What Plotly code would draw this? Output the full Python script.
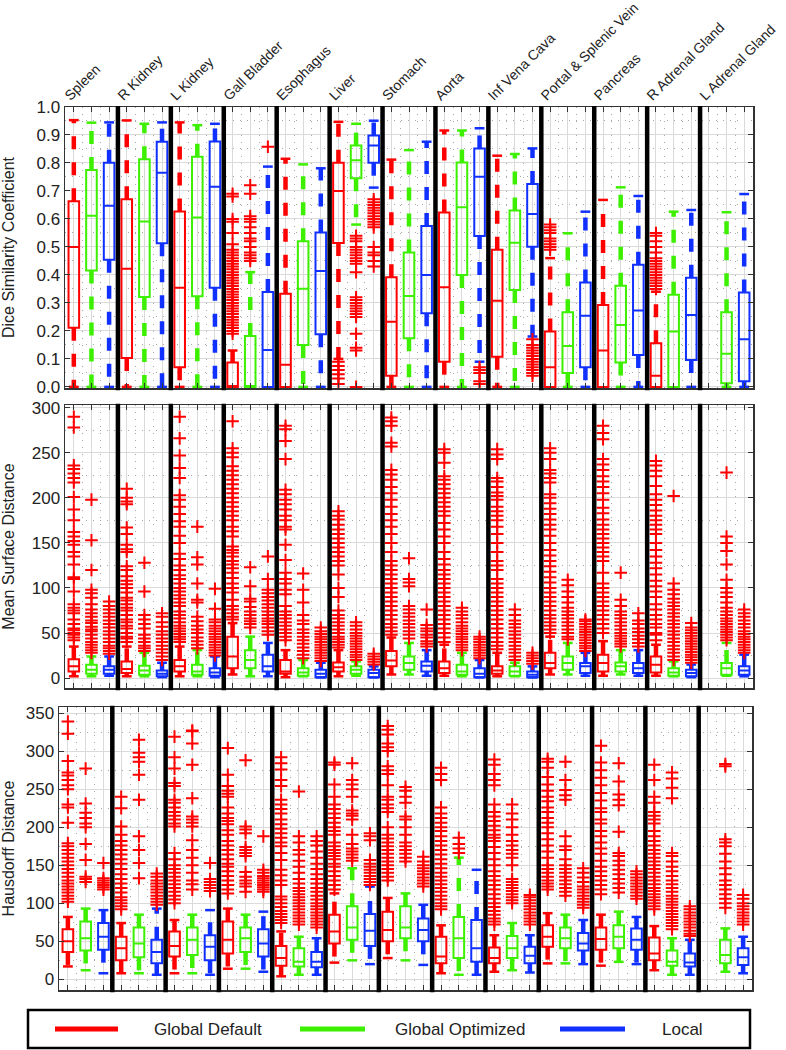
import plotly.graph_objects as go

# ---------------- data ----------------
ORGANS = ["Spleen", "R Kidney", "L Kidney", "Gall Bladder", "Esophagus", "Liver",
          "Stomach", "Aorta", "Inf Vena Cava", "Portal & Splenic Vein", "Pancreas",
          "R Adrenal Gland", "L Adrenal Gland"]
METHODS = ["Global Default", "Global Optimized", "Local"]
COLORS = ["#ff0000", "#3cf000", "#1030ff"]
OUTLIER_COLOR = "#ff0000"

# box statistics per organ: (lower whisker, q1, median, q3, upper whisker); None = no data
DSC_GD = [(0, 0.211, 0.50, 0.663, 0.953), (0, 0.103, 0.422, 0.670, 0.952), (0, 0.07, 0.354, 0.627, 0.945),
          (0, 0, 0.003, 0.087, 0.13), (0, 0, 0.079, 0.333, 0.815), (0.10, 0.514, 0.70, 0.801, 0.947),
          (0, 0.04, 0.233, 0.392, 0.812), (0, 0.09, 0.356, 0.623, 0.916), (0, 0.108, 0.308, 0.49, 0.826),
          (0, 0, 0.07, 0.198, 0.46), (0, 0, 0.13, 0.293, 0.668), (0, 0, 0.04, 0.156, 0.34), None]
DSC_GO = [(0, 0.416, 0.611, 0.775, 0.944), (0, 0.321, 0.591, 0.813, 0.94), (0, 0.324, 0.605, 0.822, 0.935),
          (0, 0, 0.003, 0.182, 0.41), (0, 0.15, 0.351, 0.52, 0.795), (0.58, 0.745, 0.81, 0.862, 0.94),
          (0, 0.174, 0.325, 0.48, 0.846), (0, 0.40, 0.642, 0.802, 0.916), (0, 0.346, 0.515, 0.63, 0.832),
          (0, 0.05, 0.146, 0.267, 0.549), (0, 0.087, 0.221, 0.361, 0.713), (0, 0, 0.198, 0.329, 0.626),
          (0, 0.013, 0.118, 0.267, 0.624)]
DSC_LO = [(0, 0.454, 0.647, 0.801, 0.945), (0, 0.513, 0.765, 0.876, 0.945), (0, 0.354, 0.715, 0.877, 0.94),
          (0, 0, 0.132, 0.339, 0.787), (0, 0.188, 0.414, 0.552, 0.781), (0.712, 0.801, 0.862, 0.898, 0.951),
          (0, 0.263, 0.40, 0.575, 0.876), (0.09, 0.539, 0.751, 0.852, 0.924), (0.18, 0.501, 0.618, 0.725, 0.852),
          (0, 0.07, 0.254, 0.373, 0.626), (0, 0.114, 0.273, 0.436, 0.682), (0, 0.096, 0.257, 0.39, 0.632),
          (0, 0.02, 0.17, 0.337, 0.689)]

DSC_GD_OUT = [[], [], [],
              [0.19, 0.20, 0.21, 0.22, 0.23, 0.24, 0.25, 0.26, 0.27, 0.28, 0.29, 0.30, 0.31, 0.32, 0.33, 0.34,
               0.35, 0.36, 0.37, 0.38, 0.39, 0.40, 0.41, 0.42, 0.43, 0.44, 0.45, 0.46, 0.47, 0.48, 0.49, 0.51,
               0.55, 0.59, 0.60, 0.68, 0.69],
              [], [0.09, 0.075, 0.06, 0.045, 0.03, 0.01], [], [], [],
              [0.49, 0.50, 0.51, 0.52, 0.53, 0.55, 0.56, 0.57, 0.58], [],
              [0.35, 0.36, 0.37, 0.38, 0.39, 0.40, 0.41, 0.42, 0.43, 0.44, 0.45, 0.46, 0.48, 0.50, 0.52, 0.54, 0.55],
              []]
DSC_GO_OUT = [[], [], [],
              [0.45, 0.46, 0.47, 0.48, 0.50, 0.52, 0.53, 0.55, 0.57, 0.59, 0.60, 0.61, 0.69, 0.72],
              [],
              [0.54, 0.53, 0.52, 0.50, 0.49, 0.48, 0.47, 0.46, 0.45, 0.44, 0.41, 0.32, 0.31, 0.30, 0.29, 0.28,
               0.27, 0.26, 0.25, 0.19, 0.14, 0.13, 0.0],
              [], [], [], [], [], [], []]
DSC_LO_OUT = [[], [], [], [0.858], [],
              [0.67, 0.66, 0.65, 0.64, 0.63, 0.62, 0.61, 0.60, 0.59, 0.58, 0.57, 0.50, 0.48, 0.47, 0.45, 0.43],
              [], [0.07, 0.06, 0.05, 0.02, 0.01],
              [0.17, 0.15, 0.14, 0.13, 0.12, 0.11, 0.10, 0.09, 0.08, 0.07, 0.06, 0.05, 0.04],
              [], [], [], []]

MSD_GD = [(2, 7.4, 13, 21, 35), (2, 5.6, 10, 18.5, 35), (2, 7.4, 13, 20, 35), (4, 11, 24, 46, 61),
          (1, 4.8, 7.4, 20, 31), (2, 7.4, 12, 17.4, 31), (4, 13, 19.6, 30, 45), (2.6, 5.6, 11, 18.5, 37),
          (2, 4.8, 8.5, 13, 28), (4, 11, 16.7, 28, 46), (2.6, 7.4, 16.7, 26, 41), (2.6, 6.3, 14.8, 24, 37), None]
MSD_GO = [(2, 4.8, 9.3, 14.8, 24), (2, 3.7, 8.5, 13.7, 28), (2, 3.7, 7.4, 14.8, 31), (2, 11, 20, 31, 46),
          (2, 2.6, 6.3, 11, 20), (2.6, 4.8, 9.3, 13, 18.5), (4, 9.3, 16.7, 24, 39), (2, 3.7, 7.4, 14.8, 28),
          (2, 2.6, 7.4, 13, 17), (4, 9.3, 16.7, 24, 39), (4, 7.4, 13, 17.4, 31), (2, 2.6, 6.3, 11, 18.5),
          (2.6, 3.7, 11, 16.7, 39)]
MSD_LO = [(2.6, 4.8, 9.3, 13, 24), (1, 1.9, 4.8, 8.5, 17), (1, 2.6, 6.3, 11, 24), (2, 7.4, 13, 26, 39),
          (0.7, 1, 4.8, 9.3, 17), (0.7, 1, 5.6, 9.3, 13), (2.6, 7.4, 13.7, 18.5, 31), (0.7, 1, 4.8, 11, 20),
          (0.7, 1, 3.7, 7.4, 13), (2.6, 5.6, 13, 16.7, 28), (2.6, 5.6, 11, 16.7, 31), (1, 2, 5.6, 9.3, 15),
          (2, 3.7, 8.5, 13, 26)]

MSD_GD_OUT = [
    [42, 45, 48, 50, 53, 55, 60, 65, 72, 75, 78, 82, 96, 110, 112, 126, 135, 140, 148, 152, 157, 162, 175, 187,
     201, 217, 222, 227, 232, 236, 278, 290],
    [40, 44, 46, 50, 55, 58, 62, 65, 70, 75, 78, 82, 86, 89, 95, 100, 104, 108, 113, 120, 124, 140, 143, 148,
     160, 167, 193, 196, 200, 210],
    [40, 43, 46, 49, 52, 55, 58, 62, 66, 70, 74, 80, 84, 88, 92, 96, 100, 105, 110, 114, 120, 125, 132, 138,
     150, 158, 168, 174, 182, 190, 198, 203, 222, 233, 247, 266, 290],
    [65, 68, 72, 76, 80, 87, 95, 100, 105, 111, 117, 122, 126, 130, 135, 139, 142, 146, 157, 163, 168, 175, 180,
     185, 190, 195, 200, 205, 210, 215, 220, 225, 230, 235, 245, 250, 255, 285],
    [42, 46, 50, 54, 58, 62, 66, 70, 74, 80, 93, 98, 105, 110, 117, 131, 148, 165, 168, 175, 180, 187, 193, 198,
     204, 209, 243, 263, 276, 280],
    [34, 37, 40, 43, 46, 50, 54, 58, 62, 66, 70, 75, 90, 100, 115, 125, 130, 135, 140, 145, 150, 155, 160, 165,
     170, 176, 180, 185],
    [48, 52, 56, 60, 65, 70, 75, 80, 85, 90, 95, 100, 105, 110, 115, 120, 125, 130, 140, 150, 160, 168, 175, 182,
     190, 198, 205, 212, 220, 226, 231, 257, 261, 280, 285, 289],
    [40, 45, 50, 55, 60, 65, 70, 75, 80, 85, 90, 95, 100, 105, 110, 115, 120, 126, 132, 140, 150, 157, 165, 172,
     180, 185, 190, 195, 200, 205, 210, 215, 220, 224, 239, 250, 254],
    [32, 36, 40, 45, 50, 55, 60, 65, 70, 75, 80, 85, 90, 95, 100, 105, 110, 120, 125, 130, 140, 150, 160, 168,
     175, 180, 185, 190, 198, 202, 206, 212, 218, 222, 243, 248, 254],
    [50, 54, 58, 62, 66, 70, 75, 80, 85, 90, 95, 100, 106, 112, 118, 124, 130, 136, 142, 150, 158, 165, 170, 176,
     182, 188, 194, 200, 204, 217, 222, 227, 231, 243, 250, 255],
    [50, 55, 60, 65, 70, 75, 80, 85, 90, 95, 100, 105, 117, 130, 135, 140, 145, 150, 155, 160, 165, 170, 176, 183,
     189, 198, 205, 212, 218, 224, 231, 237, 243, 265, 272, 280],
    [42, 48, 50, 56, 60, 65, 70, 76, 82, 90, 96, 102, 108, 115, 122, 128, 135, 142, 150, 160, 165, 170, 175, 180,
     186, 192, 198, 204, 213, 224, 230, 236, 241],
    []]
MSD_GO_OUT = [
    [28, 31, 34, 37, 40, 44, 48, 52, 54, 57, 61, 64, 68, 72, 76, 82, 89, 94, 98, 120, 153, 198],
    [30, 33, 36, 40, 44, 48, 55, 60, 65, 70, 96, 128],
    [33, 37, 41, 45, 50, 54, 58, 63, 68, 84, 87, 105, 126, 134, 168],
    [56, 60, 63, 66, 70, 74, 79, 85, 88, 102, 123],
    [22, 26, 30, 34, 38, 42, 46, 50, 54, 60, 64, 70, 84, 98, 116],
    [20, 23, 26, 29, 32, 35, 38, 41, 44, 47, 50, 54, 58, 62],
    [44, 48, 52, 56, 60, 64, 68, 72, 76, 80, 102, 106, 110, 133],
    [31, 34, 37, 40, 43, 46, 49, 52, 55, 58, 62, 66, 70, 74, 78],
    [20, 24, 28, 32, 36, 40, 44, 48, 52, 56, 60, 64, 70, 76],
    [43, 46, 50, 54, 58, 62, 66, 70, 74, 78, 84, 90, 96, 103, 109],
    [35, 38, 41, 44, 47, 50, 54, 58, 62, 66, 70, 74, 80, 87, 117],
    [20, 24, 28, 32, 36, 40, 44, 48, 52, 56, 60, 64, 68, 72, 76, 80, 84, 88, 93, 98, 105, 202],
    [42, 45, 48, 51, 54, 57, 60, 63, 66, 70, 74, 78, 84, 90, 95, 100, 109, 126, 141, 150, 157, 228]]
MSD_LO_OUT = [
    [27, 30, 33, 36, 40, 44, 48, 52, 56, 60, 64, 68, 72, 76, 80, 85],
    [20, 24, 28, 32, 36, 40, 44, 48, 52, 57, 62, 68, 72],
    [25, 28, 31, 34, 37, 40, 43, 46, 49, 52, 55, 58, 62, 65, 77, 99],
    [48, 52, 56, 60, 63, 66, 70, 74, 78, 82, 86, 90, 94, 98, 110, 135],
    [19, 22, 25, 28, 31, 34, 37, 40, 43, 46, 49, 52, 56],
    [15, 18, 21, 24, 27],
    [35, 38, 41, 45, 48, 52, 55, 59, 76],
    [22, 25, 28, 31, 34, 37, 40, 43, 46],
    [16, 19, 22, 25, 28],
    [30, 33, 36, 39, 42, 45, 48, 51, 54, 57, 60, 63, 65],
    [35, 39, 43, 47, 51, 55, 60, 64, 72],
    [17, 20, 23, 26, 29, 32, 35, 38, 41, 44, 47, 50, 53, 56, 61],
    [28, 31, 34, 37, 40, 43, 46, 49, 52, 56, 60, 64, 68, 72, 76]]

HD_GD = [(17, 36, 50, 66, 82), (8, 25, 41, 56, 74), (8, 30, 44, 63, 78), (14, 34, 52, 76, 93),
         (4, 18, 28, 44, 63), (22, 47, 63, 85, 113), (28, 50, 65, 89, 107), (8, 21, 30, 56, 71),
         (10, 21, 28, 42, 58), (21, 43, 56, 71, 87), (18, 39, 53, 68, 85), (12, 25, 34, 55, 70), None]
HD_GO = [(12, 38, 54, 76, 93), (8, 29, 47, 68, 85), (8, 32, 52, 68, 85), (14, 36, 54, 68, 85),
         (6, 17, 23, 41, 56), (25, 52, 68, 96, 146), (25, 54, 68, 96, 113), (6, 28, 54, 82, 160),
         (12, 28, 41, 57, 74), (21, 41, 54, 68, 85), (23, 41, 56, 71, 89), (6, 18, 23, 38, 54),
         (10, 21, 32, 52, 67)]
HD_LO = [(8, 39, 56, 74, 91), (6, 21, 36, 52, 93), (6, 25, 43, 58, 91), (10, 30, 47, 66, 89),
         (6, 16, 23, 36, 54), (20, 44, 64, 86, 122), (19, 50, 65, 80, 98), (6, 23, 41, 78, 144),
         (9, 21, 31, 43, 58), (20, 38, 47, 61, 78), (20, 39, 52, 67, 82), (6, 17, 22, 34, 52),
         (8, 19, 29, 41, 56)]

HD_GD_OUT = [
    [102, 106, 110, 114, 118, 122, 126, 130, 135, 140, 145, 150, 155, 160, 165, 170, 175, 179, 206, 226, 230,
     250, 255, 262, 268, 272, 287, 323, 339],
    [92, 96, 100, 104, 108, 114, 120, 126, 132, 138, 145, 152, 158, 164, 170, 176, 182, 190, 201, 225, 240],
    [100, 105, 110, 115, 120, 125, 130, 135, 140, 145, 150, 158, 166, 201, 205, 210, 215, 220, 226, 232, 236,
     254, 258, 277, 292, 319],
    [113, 118, 124, 130, 136, 142, 148, 152, 158, 164, 170, 176, 182, 190, 196, 204, 208, 212, 218, 226, 240,
     244, 248, 254, 269, 304],
    [74, 78, 82, 86, 90, 95, 100, 105, 109, 124, 130, 137, 144, 157, 166, 175, 180, 186, 192, 198, 204, 210,
     218, 224, 230, 236, 254, 262, 276, 284, 292],
    [118, 124, 130, 136, 142, 148, 152, 158, 162, 166, 170, 175, 180, 190, 195, 200, 206, 212, 218, 224, 230,
     240, 256, 282, 285],
    [130, 135, 140, 145, 150, 155, 160, 165, 170, 175, 180, 185, 190, 200, 220, 225, 230, 236, 240, 255, 270,
     275, 280, 300, 305, 310, 322, 328, 333],
    [92, 96, 100, 105, 110, 115, 120, 125, 130, 135, 140, 146, 152, 158, 164, 170, 176, 182, 188, 195, 200, 206,
     212, 218, 226, 262, 270, 278],
    [72, 76, 80, 85, 90, 95, 100, 106, 112, 118, 124, 130, 136, 142, 150, 158, 166, 174, 182, 186, 190, 196, 202,
     208, 214, 220, 230, 255, 262, 270, 282, 289],
    [118, 122, 126, 130, 135, 140, 145, 150, 160, 168, 176, 184, 192, 200, 206, 212, 220, 226, 234, 240, 248,
     256, 266, 278, 286, 290],
    [112, 118, 124, 130, 136, 142, 148, 156, 165, 172, 180, 188, 195, 205, 210, 220, 225, 235, 245, 255, 265,
     275, 285, 307],
    [92, 96, 100, 104, 108, 112, 116, 120, 125, 130, 135, 140, 145, 150, 155, 160, 165, 170, 176, 182, 188, 195,
     205, 210, 215, 220, 232, 240, 262, 282],
    []]
HD_GO_OUT = [
    [128, 132, 135, 157, 178, 200, 205, 212, 219, 231, 277],
    [133, 153, 170, 188, 236, 269, 286, 292, 298, 315],
    [118, 125, 130, 140, 150, 160, 170, 183, 201, 206, 210, 214, 238, 282, 310, 326, 327],
    [115, 122, 126, 130, 135, 141, 162, 166, 170, 174, 192, 197, 201, 288],
    [72, 76, 80, 84, 88, 92, 96, 100, 104, 108, 112, 116, 120, 126, 132, 140, 148, 156, 164, 170, 180, 188, 247],
    [156, 160, 164, 168, 172, 178, 190, 210, 215, 218, 222, 240, 250, 256, 262, 284],
    [155, 160, 165, 170, 175, 180, 190, 200, 210, 214, 232, 240, 248, 253],
    [166, 172, 178, 186],
    [100, 104, 108, 112, 116, 120, 124, 128, 132, 150, 160, 165, 170, 176, 182, 190, 200, 210, 218, 230],
    [110, 115, 120, 125, 130, 135, 140, 145, 150, 158, 170, 175, 188, 236, 242, 249, 262, 286],
    [114, 120, 126, 132, 138, 144, 150, 156, 162, 166, 194, 229, 236, 243, 260, 284],
    [66, 70, 74, 78, 82, 86, 90, 94, 98, 102, 106, 110, 115, 120, 125, 130, 136, 142, 148, 155, 162, 166, 238,
     252, 264, 272],
    [94, 100, 106, 112, 118, 124, 130, 138, 146, 155, 165, 175, 180, 184, 280, 283]]
HD_LO_OUT = [
    [118, 121, 124, 127, 130, 133, 153],
    [98, 102, 106, 110, 114, 118, 122, 126, 130, 135, 139],
    [116, 120, 124, 128, 132, 153],
    [115, 118, 121, 124, 127, 130, 133, 136, 140, 144, 188],
    [68, 72, 76, 80, 84, 88, 92, 96, 100, 105, 110, 115, 120, 126, 132, 138, 145, 152, 160, 168, 176, 182, 188],
    [124, 128, 132, 136, 140, 144, 148, 152, 157, 183, 188, 192],
    [122, 126, 130, 134, 138, 142, 146, 150, 155, 161],
    [],
    [72, 76, 80, 84, 88, 92, 96, 100, 104, 108, 111],
    [94, 98, 102, 106, 110, 114, 118, 122, 128, 134, 140, 146],
    [106, 110, 114, 118, 122, 126, 130, 134, 138, 142],
    [57, 60, 64, 68, 72, 76, 80, 84, 88, 92, 96],
    [72, 76, 80, 84, 88, 92, 96, 100, 106, 111]]

Y_TITLES = ["Dice Similarity Coefficient", "Mean Surface Distance", "Hausdorff Distance"]

# ---------------- layout constants ----------------
W, H = 786, 1050
FONT = "Arial, Liberation Sans, sans-serif"
OFFSETS = [1 / 6, 1 / 2, 5 / 6]
BOX_W = 0.2


def px(v):
    return v / W


def py(v):
    return 1 - v / H


PANELS = [
    dict(stats=[DSC_GD, DSC_GO, DSC_LO], outs=[DSC_GD_OUT, DSC_GO_OUT, DSC_LO_OUT],
         xdom=[px(65), px(753)], ydom=[py(388), py(107)], yrange=[-0.004, 1.0], dtick=0.1,
         minor=0.05, fmt=".1f", standoff=22),
    dict(stats=[MSD_GD, MSD_GO, MSD_LO], outs=[MSD_GD_OUT, MSD_GO_OUT, MSD_LO_OUT],
         xdom=[px(65), px(753)], ydom=[py(688), py(405)], yrange=[-11, 303], dtick=50,
         minor=25, fmt="d", standoff=18),
    dict(stats=[HD_GD, HD_GO, HD_LO], outs=[HD_GD_OUT, HD_GO_OUT, HD_LO_OUT],
         xdom=[px(59), px(752)], ydom=[py(990), py(707)], yrange=[-14, 358], dtick=50,
         minor=25, fmt="d", standoff=14),
]

fig = go.Figure()
shapes = []

for p, panel in enumerate(PANELS):
    xa = "x" if p == 0 else f"x{p + 1}"
    ya = "y" if p == 0 else f"y{p + 1}"
    for m in range(3):
        stats = panel["stats"][m]
        outs = panel["outs"][m]
        col = COLORS[m]
        xs, q1, med, q3 = [], [], [], []
        wx, wy, cx, cy = [], [], [], []
        ox, oy = [], []
        for i, s in enumerate(stats):
            pos = i + OFFSETS[m]
            if s is not None:
                lo, a, md, b, hi = s
                xs.append(pos); q1.append(a); med.append(md); q3.append(b)
                if hi > b:
                    wx += [pos, pos, None]; wy += [b, hi, None]
                    cx.append(pos); cy.append(hi)
                if lo < a:
                    wx += [pos, pos, None]; wy += [a, lo, None]
                    cx.append(pos); cy.append(lo)
            for v in outs[i]:
                ox.append(pos); oy.append(v)
        # whiskers (dashed, thick)
        fig.add_trace(go.Scatter(x=wx, y=wy, mode="lines", xaxis=xa, yaxis=ya,
                                 line=dict(color=col, width=4.5, dash="13px,13px"),
                                 hoverinfo="skip", showlegend=False))
        # whisker caps
        fig.add_trace(go.Scatter(x=cx, y=cy, mode="markers", xaxis=xa, yaxis=ya,
                                 marker=dict(symbol="line-ew", size=7,
                                             line=dict(color=col, width=2.5)),
                                 hoverinfo="skip", showlegend=False))
        # boxes
        fig.add_trace(go.Box(x=xs, q1=q1, median=med, q3=q3, lowerfence=q1, upperfence=q3,
                             width=BOX_W, whiskerwidth=0, boxpoints=False, name=METHODS[m],
                             line=dict(color=col, width=2), fillcolor="rgba(0,0,0,0)",
                             xaxis=xa, yaxis=ya, showlegend=False))
        # outliers
        fig.add_trace(go.Scatter(x=ox, y=oy, mode="markers", xaxis=xa, yaxis=ya,
                                 marker=dict(symbol="cross-thin", size=9,
                                             line=dict(color=OUTLIER_COLOR, width=2)),
                                 hoverinfo="skip", showlegend=False))
    # thick group separators
    for g in range(1, len(ORGANS)):
        shapes.append(dict(type="line", xref=xa, yref=f"{ya} domain", x0=g, x1=g, y0=-0.008, y1=1.004,
                           line=dict(color="black", width=4.5), layer="above"))

axis_common = dict(showline=True, linecolor="#333333", linewidth=1.5, mirror="ticks",
                   ticks="inside", ticklen=5, tickcolor="#333333", zeroline=False,
                   showgrid=True, gridcolor="#dadada", gridwidth=1, automargin=False)

layout = dict(width=W, height=H, margin=dict(l=0, r=0, t=0, b=0, autoexpand=False),
              paper_bgcolor="white", plot_bgcolor="white",
              font=dict(family=FONT, size=16, color="#222222"),
              boxmode="overlay", hovermode=False)

for p, panel in enumerate(PANELS):
    xk = "xaxis" if p == 0 else f"xaxis{p + 1}"
    yk = "yaxis" if p == 0 else f"yaxis{p + 1}"
    ya = "y" if p == 0 else f"y{p + 1}"
    xa = "x" if p == 0 else f"x{p + 1}"
    layout[xk] = dict(axis_common, domain=panel["xdom"], anchor=ya, range=[0, len(ORGANS)],
                      tickmode="linear", tick0=1 / 6, dtick=1 / 3, showticklabels=False,
                      minor=dict(tick0=0, dtick=1 / 3, showgrid=True, gridcolor="#a8a8a8",
                                 griddash="1px,6px", gridwidth=1, ticks=""))
    layout[yk] = dict(axis_common, domain=panel["ydom"], anchor=xa, range=panel["yrange"],
                      tickmode="linear", tick0=0, dtick=panel["dtick"], tickformat=panel["fmt"],
                      tickfont=dict(size=17, color="#222222"),
                      title=dict(text=Y_TITLES[p], font=dict(size=16, color="#222222"),
                                 standoff=panel["standoff"]),
                      minor=dict(tick0=0, dtick=panel["minor"], showgrid=True, gridcolor="#a8a8a8",
                                 griddash="1px,6px", gridwidth=1, ticks=""))

# organ names along the top of the first panel
layout["xaxis4"] = dict(overlaying="x", anchor="y", side="top", range=[0, len(ORGANS)],
                        tickmode="array", tickvals=[i + 0.01 for i in range(len(ORGANS))],
                        ticktext=ORGANS, tickangle=-45, ticks="", showgrid=False, showline=False,
                        zeroline=False, ticklabeloverflow="allow", automargin=False,
                        tickfont=dict(size=14, color="#222222"))
fig.add_trace(go.Scatter(x=[0], y=[None], xaxis="x4", yaxis="y", showlegend=False,
                         hoverinfo="skip", mode="markers"))

# legend box drawn in page coordinates
shapes.append(dict(type="rect", xref="paper", yref="paper", x0=px(28), x1=px(750), y0=py(1048), y1=py(1010),
                   line=dict(color="black", width=2.5), fillcolor="white", layer="above"))
annotations = []
LEG_LINE = [(55, 118), (300, 365), (560, 625)]
LEG_TEXT = [152, 393, 660]
for m in range(3):
    shapes.append(dict(type="line", xref="paper", yref="paper", x0=px(LEG_LINE[m][0]), x1=px(LEG_LINE[m][1]),
                       y0=py(1029), y1=py(1029), line=dict(color=COLORS[m], width=5), layer="above"))
    annotations.append(dict(xref="paper", yref="paper", x=px(LEG_TEXT[m]), y=py(1029), text=METHODS[m],
                            showarrow=False, xanchor="left", yanchor="middle",
                            font=dict(size=17, color="#222222", family=FONT)))

layout["shapes"] = shapes
layout["annotations"] = annotations
fig.update_layout(layout)

fig.write_html("out.html", config={"displayModeBar": False, "staticPlot": True},
               post_script="document.body.style.margin='0px';document.body.style.overflow='hidden';")
